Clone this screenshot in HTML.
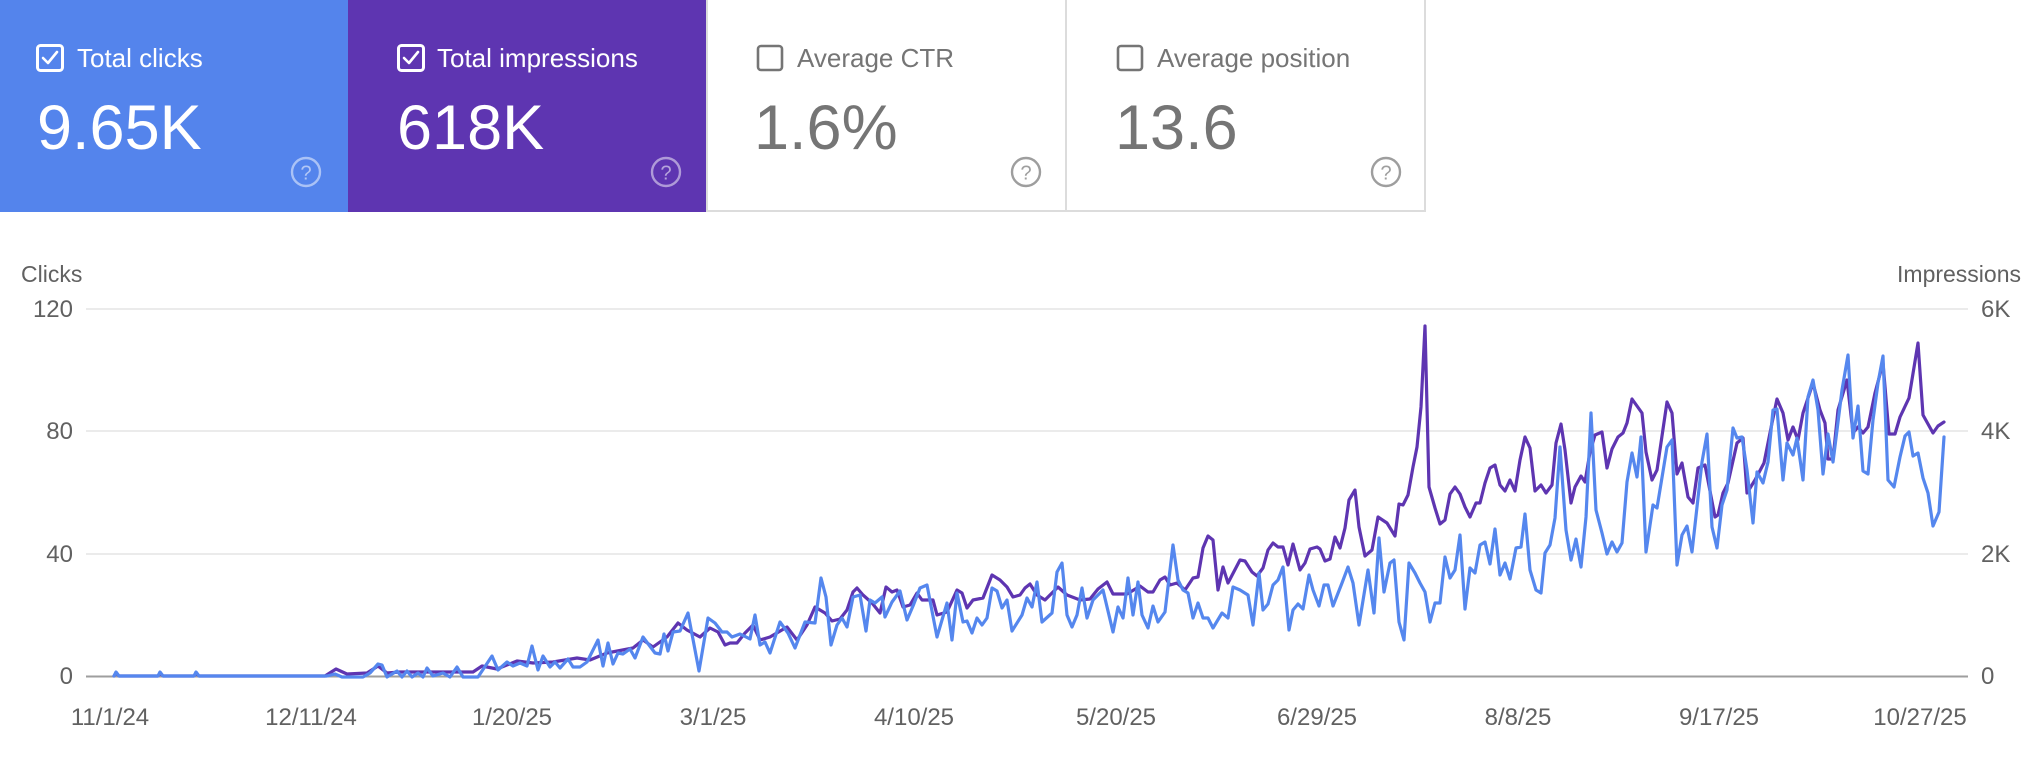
<!DOCTYPE html>
<html><head><meta charset="utf-8"><style>
html,body{margin:0;padding:0;background:#fff;}
svg{display:block;font-family:"Liberation Sans",Arial,sans-serif;}
</style></head><body>
<svg width="2044" height="776" viewBox="0 0 2044 776" xmlns="http://www.w3.org/2000/svg">
<rect x="0" y="0" width="2044" height="776" fill="#fff"/>
<!-- Cards -->
<rect x="0" y="0" width="348" height="212" fill="#5484ec"/>
<rect x="348" y="0" width="359" height="212" fill="#5e35b1"/>
<rect x="707" y="-2" width="359" height="213" fill="#fff" stroke="#dcdcdc" stroke-width="2"/>
<rect x="1066" y="-2" width="359" height="213" fill="#fff" stroke="#dcdcdc" stroke-width="2"/>

<!-- Card 1 -->
<rect x="37.5" y="45.5" width="25" height="25" rx="3" fill="none" stroke="#fff" stroke-width="3"/>
<polyline points="43,58 48,63 57,52" fill="none" stroke="#fff" stroke-width="2.6" stroke-linecap="round" stroke-linejoin="round"/>
<text x="77" y="67" font-size="26" fill="#fff">Total clicks</text>
<text x="37" y="149" font-size="63" fill="#fff">9.65K</text>
<circle cx="306" cy="172" r="14" fill="none" stroke="rgba(255,255,255,0.5)" stroke-width="2.4"/>
<text x="306" y="179.5" font-size="20" fill="rgba(255,255,255,0.55)" text-anchor="middle">?</text>

<!-- Card 2 -->
<rect x="398.5" y="45.5" width="25" height="25" rx="3" fill="none" stroke="#fff" stroke-width="3"/>
<polyline points="404,58 409,63 418,52" fill="none" stroke="#fff" stroke-width="2.6" stroke-linecap="round" stroke-linejoin="round"/>
<text x="437" y="67" font-size="26" fill="#fff">Total impressions</text>
<text x="397" y="149" font-size="63" fill="#fff">618K</text>
<circle cx="666" cy="172" r="14" fill="none" stroke="rgba(255,255,255,0.5)" stroke-width="2.4"/>
<text x="666" y="179.5" font-size="20" fill="rgba(255,255,255,0.55)" text-anchor="middle">?</text>

<!-- Card 3 -->
<rect x="758" y="46" width="24" height="24" rx="3" fill="none" stroke="#757575" stroke-width="2.6"/>
<text x="797" y="67" font-size="26" fill="#757575">Average CTR</text>
<text x="754" y="149" font-size="63" fill="#757575">1.6%</text>
<circle cx="1026" cy="172" r="14" fill="none" stroke="#9e9e9e" stroke-width="2.4"/>
<text x="1026" y="179.5" font-size="20" fill="#9e9e9e" text-anchor="middle">?</text>

<!-- Card 4 -->
<rect x="1118" y="46" width="24" height="24" rx="3" fill="none" stroke="#757575" stroke-width="2.6"/>
<text x="1157" y="67" font-size="26" fill="#757575">Average position</text>
<text x="1115" y="149" font-size="63" fill="#757575">13.6</text>
<circle cx="1386" cy="172" r="14" fill="none" stroke="#9e9e9e" stroke-width="2.4"/>
<text x="1386" y="179.5" font-size="20" fill="#9e9e9e" text-anchor="middle">?</text>

<!-- Axis titles -->
<text x="21" y="282" font-size="23" fill="#616161">Clicks</text>
<text x="2021" y="282" font-size="23" fill="#616161" text-anchor="end">Impressions</text>

<!-- Gridlines -->
<g stroke="#ebebeb" stroke-width="2">
<line x1="86" y1="309" x2="1968" y2="309"/>
<line x1="86" y1="431" x2="1968" y2="431"/>
<line x1="86" y1="554" x2="1968" y2="554"/>
</g>
<line x1="86" y1="676.5" x2="1968" y2="676.5" stroke="#9e9e9e" stroke-width="2"/>

<!-- Left ticks -->
<g font-size="24" fill="#616161" text-anchor="end">
<text x="73" y="317">120</text>
<text x="73" y="439">80</text>
<text x="73" y="562">40</text>
<text x="73" y="684">0</text>
</g>
<!-- Right ticks -->
<g font-size="24" fill="#616161">
<text x="1981" y="317">6K</text>
<text x="1981" y="439">4K</text>
<text x="1981" y="562">2K</text>
<text x="1981" y="684">0</text>
</g>
<!-- Date labels -->
<g font-size="24" fill="#616161" text-anchor="middle">
<text x="110" y="725">11/1/24</text>
<text x="311" y="725">12/11/24</text>
<text x="512" y="725">1/20/25</text>
<text x="713" y="725">3/1/25</text>
<text x="914" y="725">4/10/25</text>
<text x="1116" y="725">5/20/25</text>
<text x="1317" y="725">6/29/25</text>
<text x="1518" y="725">8/8/25</text>
<text x="1719" y="725">9/17/25</text>
<text x="1920" y="725">10/27/25</text>
</g>

<!-- Impressions (purple) -->
<polyline fill="none" stroke="#5e35b1" stroke-width="3.2" stroke-linejoin="round" stroke-linecap="round" points="114,676 116,673 119,676 158,676 160,673 163,676 194,676 196,673 199,676 325,676 336,669 347,674 367,673 378,666 387,673 400,672 473,672 482,666 497,669 517,661 533,663 553,662 577,658 590,660 607,653 633,648 643,640 653,647 667,637 678,623 687,630 700,637 710,628 718,632 725,645 730,643 737,643 745,633 753,625 760,640 770,637 787,627 797,640 807,625 815,607 825,613 832,621 840,619 847,610 853,592 857,588 863,595 872,603 880,613 886,587 892,592 897,590 903,607 910,605 917,593 922,600 933,600 937,615 947,612 957,590 962,593 967,608 973,600 983,598 992,575 1000,580 1007,587 1013,597 1020,595 1025,588 1030,584 1037,595 1045,600 1053,592 1058,587 1067,595 1080,600 1090,599 1098,589 1107,582 1113,594 1127,594 1137,588 1140,586 1148,592 1153,592 1160,580 1165,577 1170,585 1177,583 1185,590 1193,578 1198,577 1203,548 1208,536 1213,540 1218,590 1223,567 1228,583 1240,560 1245,561 1252,572 1257,576 1263,568 1268,550 1273,543 1278,547 1283,547 1288,565 1293,544 1300,570 1305,563 1310,549 1317,547 1320,549 1325,561 1330,559 1335,537 1340,548 1345,528 1349,500 1355,490 1359,527 1365,556 1372,550 1378,517 1387,523 1395,536 1399,504 1403,505 1408,495 1413,467 1417,447 1421,407 1425,326 1429,487 1435,508 1440,524 1445,520 1450,494 1455,487 1460,494 1465,507 1470,517 1476,503 1480,503 1485,483 1490,468 1495,465 1500,485 1505,491 1510,480 1515,491 1520,460 1525,437 1530,448 1535,491 1541,485 1546,493 1552,485 1556,443 1561,424 1565,450 1571,503 1575,487 1581,476 1585,482 1590,452 1595,435 1602,432 1607,468 1612,449 1618,437 1623,433 1627,423 1632,399 1637,406 1642,413 1646,452 1652,480 1657,470 1667,402 1672,413 1677,474 1682,463 1688,497 1693,503 1698,468 1705,465 1715,517 1718,515 1723,493 1728,483 1737,443 1743,438 1747,493 1755,480 1764,463 1772,423 1777,399 1783,413 1788,440 1793,427 1798,440 1803,413 1813,383 1820,410 1825,423 1828,459 1833,459 1838,410 1847,380 1853,433 1858,427 1863,433 1868,427 1875,393 1883,363 1889,434 1895,434 1900,417 1909,398 1918,343 1923,415 1933,433 1938,426 1944,422"/>

<!-- Clicks (blue) -->
<polyline fill="none" stroke="#5587ee" stroke-width="3.2" stroke-linejoin="round" stroke-linecap="round" points="114,676 116,672 119,676 158,676 160,672 163,676 194,676 196,672 199,676 327,676 335,674 342,677 363,677 370,673 378,664 382,665 387,677 397,671 402,677 407,671 412,677 418,673 423,677 427,668 433,676 443,673 450,677 457,667 463,677 478,677 492,656 498,670 507,662 513,666 520,663 527,666 532,646 538,670 543,656 550,667 555,662 560,668 568,659 573,667 580,667 587,662 598,640 603,666 608,643 613,664 618,653 623,654 630,649 635,658 643,637 655,653 660,654 664,634 668,651 673,632 680,631 688,613 699,671 708,618 715,623 722,632 727,632 732,637 740,634 750,639 755,615 760,645 765,642 770,653 780,622 788,633 795,648 805,622 815,623 821,578 826,597 831,645 837,625 842,618 847,627 853,597 860,595 866,631 870,600 875,603 882,597 885,617 892,602 900,591 907,620 913,606 920,588 927,585 937,637 947,603 952,640 957,593 963,622 967,621 972,633 977,618 982,625 987,618 992,588 997,591 1002,608 1007,600 1012,631 1022,615 1027,598 1032,607 1037,582 1042,622 1052,613 1057,572 1062,563 1067,615 1072,627 1077,615 1082,588 1087,618 1093,600 1103,590 1113,632 1118,607 1123,618 1128,578 1133,615 1138,582 1142,615 1148,628 1153,606 1158,622 1165,612 1173,545 1178,580 1183,590 1188,593 1193,618 1198,603 1203,618 1208,618 1213,628 1222,613 1228,618 1233,587 1240,590 1248,595 1253,625 1259,573 1263,610 1268,604 1273,585 1278,580 1283,567 1289,630 1293,610 1298,604 1303,609 1309,575 1313,590 1319,606 1324,585 1328,585 1333,606 1342,583 1348,567 1353,583 1359,625 1368,570 1374,613 1379,538 1384,592 1390,563 1394,560 1399,622 1404,640 1409,563 1415,573 1420,583 1425,592 1430,622 1435,603 1440,603 1445,557 1450,578 1455,570 1460,535 1465,609 1470,568 1475,573 1480,545 1485,542 1490,564 1495,529 1500,575 1505,563 1510,579 1516,548 1521,547 1525,514 1530,570 1536,590 1541,593 1545,553 1550,545 1555,518 1560,447 1566,530 1571,560 1576,539 1581,567 1586,517 1591,413 1596,510 1602,533 1607,554 1612,542 1617,552 1622,543 1627,482 1632,453 1637,477 1641,437 1646,552 1653,505 1657,508 1667,447 1672,440 1677,565 1682,535 1687,526 1692,552 1702,462 1707,434 1712,527 1717,548 1722,505 1727,490 1733,428 1737,438 1742,437 1747,470 1753,523 1757,472 1763,483 1768,462 1773,410 1777,409 1783,480 1787,443 1793,455 1797,438 1803,480 1808,397 1813,380 1818,410 1823,474 1828,434 1833,462 1842,390 1848,355 1853,438 1858,406 1863,471 1868,474 1873,420 1878,383 1883,356 1888,480 1894,487 1900,457 1905,436 1909,432 1913,456 1918,453 1923,478 1928,493 1933,526 1939,512 1944,437"/>
</svg>
</body></html>
